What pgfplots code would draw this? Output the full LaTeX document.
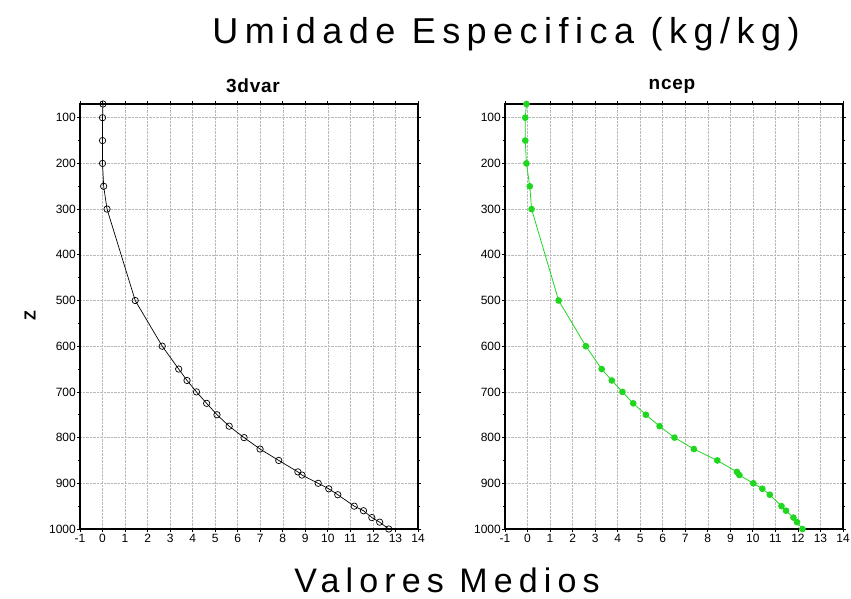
\documentclass[border=0pt]{standalone}
\usepackage{fontspec}
\setmainfont{Liberation Sans}
\newfontfamily\titlefont{Liberation Sans}[LetterSpace=18]
\newfontfamily\subfont{Liberation Sans}[LetterSpace=4]
\usepackage{pgfplots}
\pgfplotsset{compat=1.18}
\usepackage{pgfplotstable}

\definecolor{ncepgreen}{RGB}{30,215,30}

% pressure level / mean value
\pgfplotstableread{
p     v
70    0.02
100   0.00
150   0.00
200   0.00
250   0.05
300   0.20
500   1.45
600   2.65
650   3.38
675   3.75
700   4.17
725   4.62
750   5.08
775   5.62
800   6.28
825   6.99
850   7.82
875   8.67
882   8.85
900   9.57
912   10.04
925   10.44
950   11.17
960   11.58
975   11.95
985   12.30
1000  12.70
}\tdvar

\pgfplotstableread{
p     v
70    -0.05
100   -0.10
150   -0.10
200   -0.05
250   0.10
300   0.18
500   1.38
600   2.59
650   3.29
675   3.74
700   4.21
725   4.69
750   5.25
775   5.86
800   6.52
825   7.38
850   8.42
875   9.29
882   9.40
900   10.02
912   10.42
925   10.75
950   11.27
960   11.47
975   11.80
985   11.96
1000  12.20
}\ncep

\pgfplotsset{
  gradsaxis/.style={
    scale only axis,
    width=338pt, height=425pt,
    anchor=south west,
    xmin=-1, xmax=14,
    ymin=70, ymax=1000,
    y dir=reverse,
    xtick={-1,0,...,14},
    ytick={100,200,...,1000},
    minor y tick num=1,
    tick align=outside,
    major tick length=3pt,
    minor tick length=2pt,
    grid=major,
    major grid style={gray!55, densely dotted, line width=0.5pt},
    axis line style={line width=1.6pt},
    every tick/.style={black, line width=0.8pt},
    tick label style={font=\fontsize{12}{12}\selectfont},
    /pgf/number format/assume math mode=true,
    /pgf/number format/1000 sep={},
    xticklabel style={yshift=1pt, inner xsep=0pt},
    yticklabel style={inner xsep=1pt},
  },
}

\begin{document}
\begin{tikzpicture}[x=1pt,y=1pt]
\path[use as bounding box] (0,0) rectangle (851,599);

\begin{axis}[gradsaxis, at={(80pt,70pt)}]
\addplot[black, line width=0.7pt, mark=o,
  mark options={fill=white, line width=0.7pt}, mark size=3.2pt]
  table[x=v, y=p] {\tdvar};
\end{axis}

\begin{axis}[gradsaxis, at={(505pt,70pt)}]
\addplot[ncepgreen, line width=0.8pt, mark=*,
  mark options={fill=ncepgreen, draw=ncepgreen}, mark size=2.9pt]
  table[x=v, y=p] {\ncep};
\end{axis}

\node at (506,565) {\titlefont\fontsize{36}{36}\selectfont Umidade Especifica (kg/kg)};
\node at (253,513) {\subfont\bfseries\fontsize{19}{19}\selectfont 3dvar};
\node at (672,513) {\subfont\bfseries\fontsize{19}{19}\selectfont ncep};
\node[rotate=90] at (30,283) {\bfseries\fontsize{16}{16}\selectfont Z};
\node at (447,19) {\titlefont\fontsize{34}{34}\selectfont Valores Medios};
\end{tikzpicture}
\end{document}
